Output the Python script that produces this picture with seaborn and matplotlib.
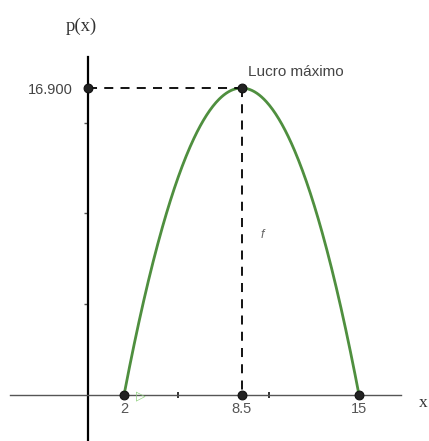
import numpy as np
import pandas as pd
import matplotlib
matplotlib.use("Agg")
import matplotlib.pyplot as plt
import seaborn as sns

# Values
roots = [2, 15]            # zeros of p(x)
vertex_x = 8.5             # x of maximum profit
vertex_y = 16900           # maximum profit
x_tick_labels = ["2", "8.5", "15"]
y_tick_label = "16.900"
point_x = [0, 8.5, 2, 8.5, 15]
point_y = [16900, 16900, 0, 0, 0]

sns.set_theme(style="white")
plt.rcParams["font.family"] = ["Liberation Sans", "DejaVu Sans"]

fig = plt.figure(figsize=(4.29, 4.41), dpi=100)
ax = fig.add_axes([0, 0, 1, 1])

# parabola through the roots with the read maximum
a = vertex_y / ((vertex_x - roots[0]) * (vertex_x - roots[1]))
xs = np.linspace(roots[0], roots[1], 300)
curve = pd.DataFrame({"x": xs, "p": a * (xs - roots[0]) * (xs - roots[1])})
sns.lineplot(data=curve, x="x", y="p", color="#4f8f3f", lw=2.0, ax=ax)

# dashed guides
ax.plot([0, vertex_x], [vertex_y, vertex_y], ls=(0, (5, 4)), color="black", lw=1.3)
ax.plot([vertex_x, vertex_x], [vertex_y, 0], ls=(0, (5, 4)), color="black", lw=1.3)

pts = pd.DataFrame({"x": point_x, "y": point_y})
sns.scatterplot(data=pts, x="x", y="y", color="#222222", s=40,
                edgecolor="#111111", linewidth=0.8, zorder=5, ax=ax)

ax.set_xlim(-4.86, 18.87)
ax.set_ylim(-2532, 21745)

# axes through origin
for s in ["top", "right"]:
    ax.spines[s].set_visible(False)
ax.spines["left"].set_position(("data", 0))
ax.spines["bottom"].set_position(("data", 0))
ax.spines["left"].set_bounds(-2532, 18600)
ax.spines["bottom"].set_bounds(-4.3, 17.3)
ax.spines["left"].set_color("black")
ax.spines["bottom"].set_color("#555555")
ax.spines["left"].set_linewidth(1.6)
ax.spines["bottom"].set_linewidth(1.0)

ax.set_xticks([roots[0], 5, vertex_x, 10, roots[1]])
ax.set_xticklabels([x_tick_labels[0], "", x_tick_labels[1], "", x_tick_labels[2]])
ax.set_yticks([5000, 10000, 15000, vertex_y])
ax.set_yticklabels(["", "", "", y_tick_label])
ax.tick_params(axis="x", bottom=True, direction="inout", length=4, width=1.4, color="#333333",
               labelsize=10.5, labelcolor="#555555", pad=3)
ax.tick_params(axis="y", left=True, direction="out", length=3, width=1.0, color="#555555",
               labelsize=10.5, labelcolor="#444444", pad=8)
ax.set_xlabel("")
ax.set_ylabel("")

ax.text(-1.25, 20300, "p(x)", family=["Liberation Serif", "DejaVu Serif"], fontsize=13.5,
        color="#333333", ha="left", va="center")
ax.text(18.55, -430, "x", family=["Liberation Serif", "DejaVu Serif"], fontsize=12.5,
        color="#333333", ha="center", va="center")
ax.text(8.85, 17800, "Lucro máximo", fontsize=11, color="#444444", ha="left", va="center")
ax.text(9.55, 8800, "f", fontsize=9, color="#666666", ha="left", va="center", style="italic")
ax.text(2.65, -60, "▷", fontsize=9, color="#8fd07e", ha="left", va="center",
        family=["DejaVu Sans"])

fig.savefig("out.png", dpi=100)
